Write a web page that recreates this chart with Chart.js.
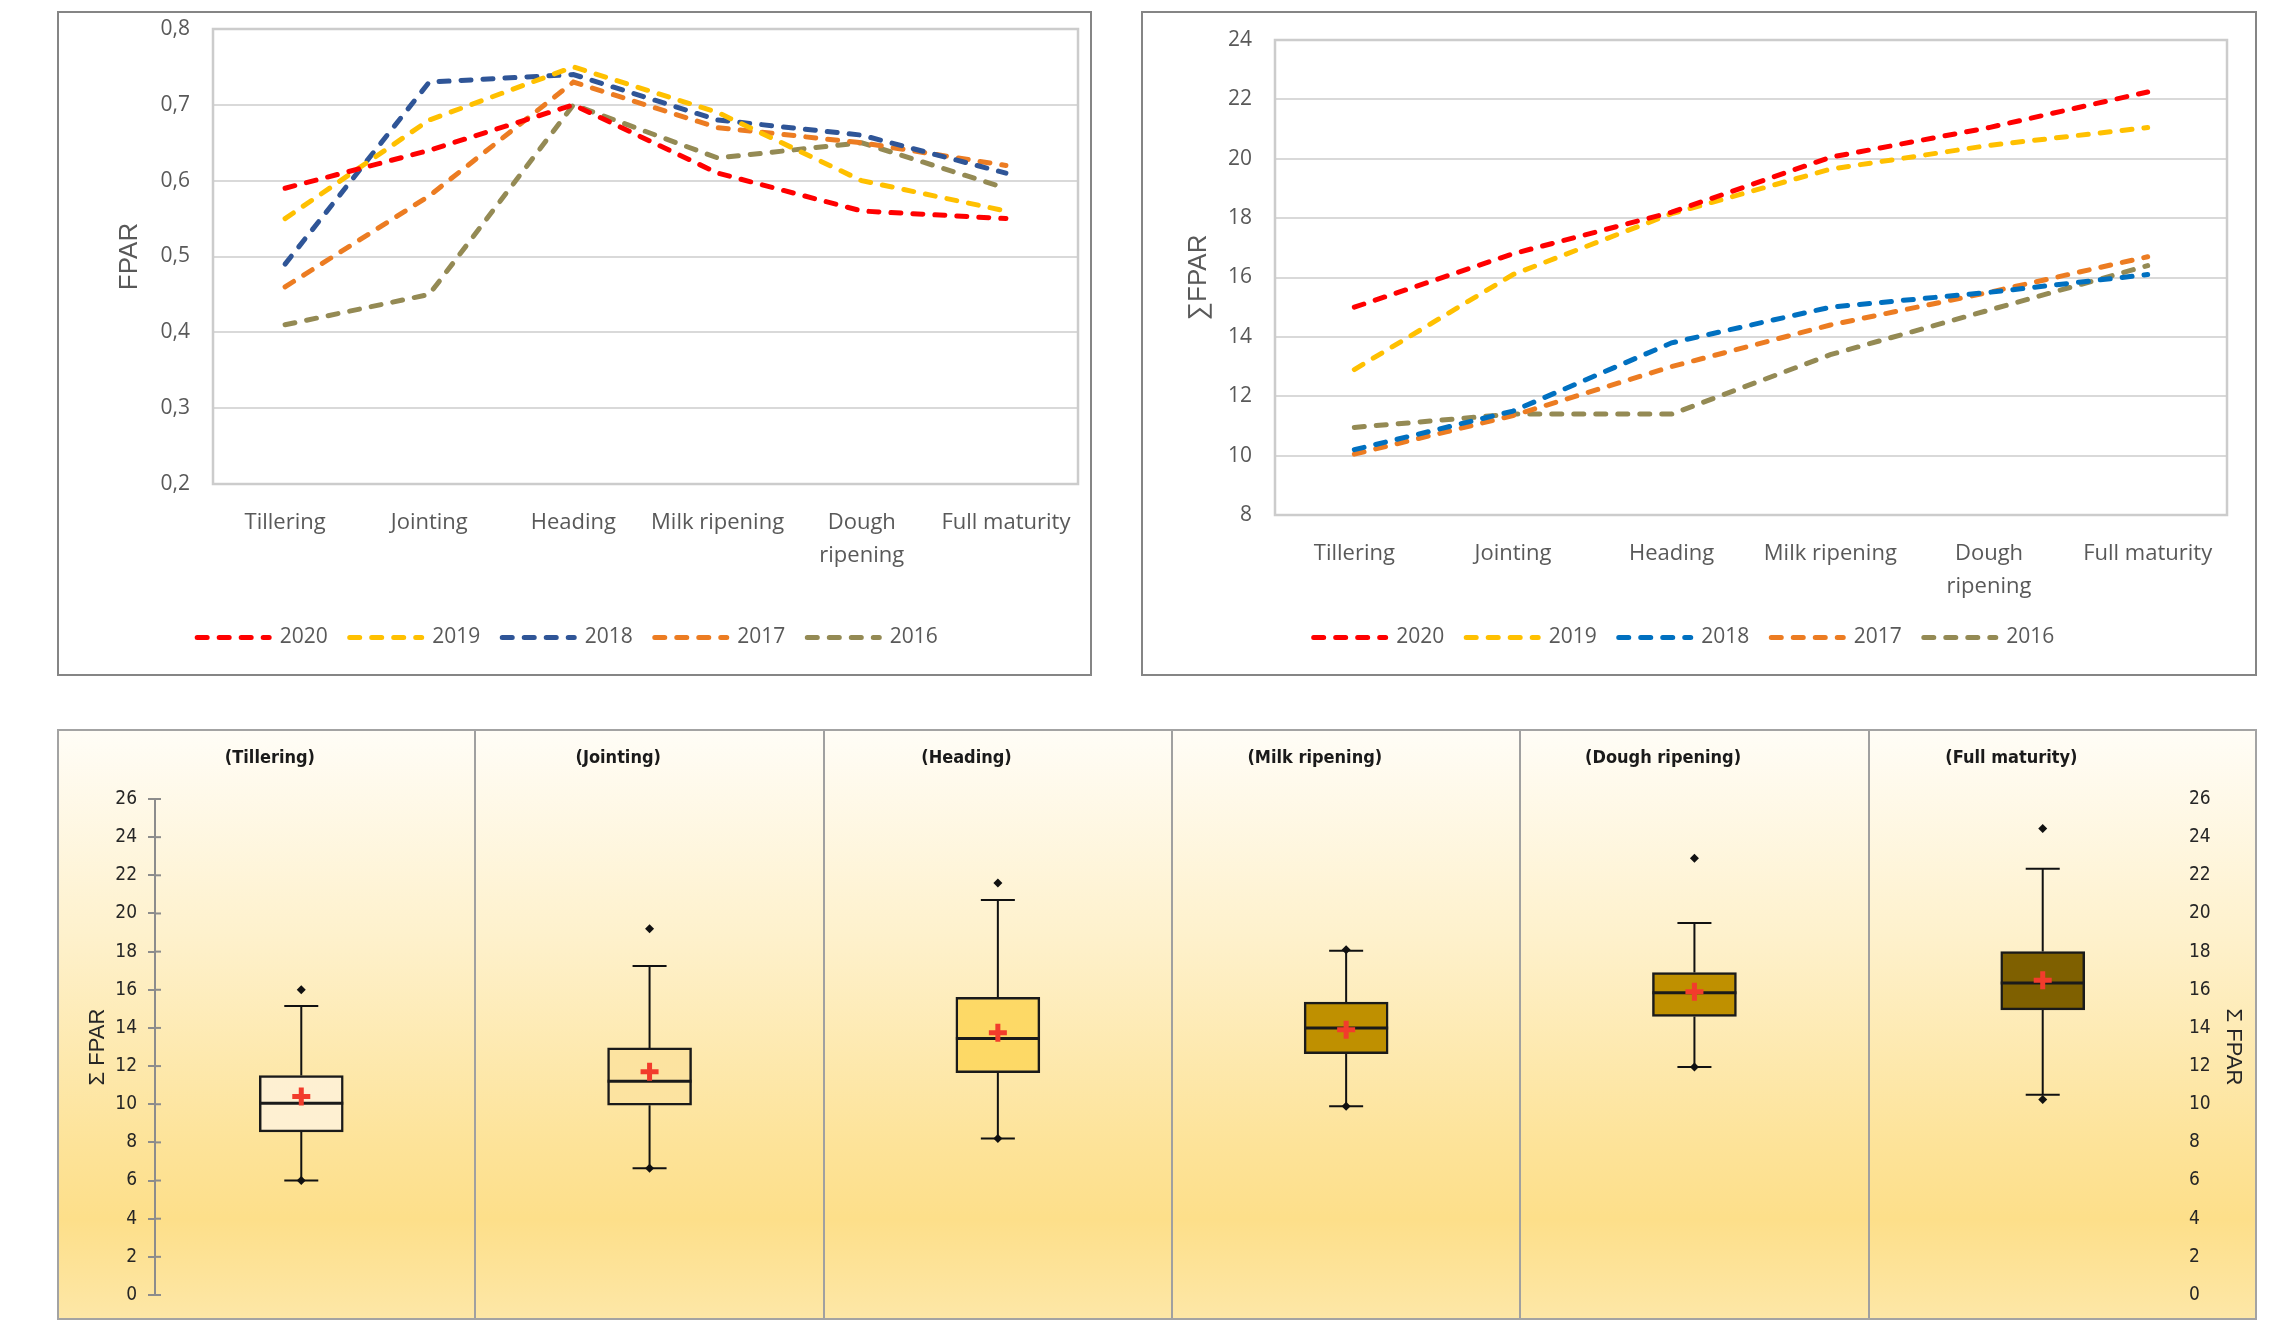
<!DOCTYPE html>
<html>
<head>
<meta charset="utf-8">
<title>FPAR by growth stage</title>
<script src="https://cdn.jsdelivr.net/npm/chart.js@4.4.1/dist/chart.umd.min.js"></script>
<style>
  html, body { margin: 0; padding: 0; background: #fff; }
  body { width: 2287px; height: 1320px; position: relative; overflow: hidden; }
  .panel { position: absolute; }
  .panel canvas { display: block; }
  .panel::after { content: ""; position: absolute; left: 0; top: 0; right: 0; bottom: 0; border: 2px solid #858585; pointer-events: none; }
  .panel.box::after { border-color: #a3a3a3; }
</style>
</head>
<body>
<div class="panel" style="left:57px;top:11px;width:1035px;height:665px">
  <canvas id="fparChart" width="1035" height="665"></canvas>
</div>
<div class="panel" style="left:1141px;top:11px;width:1116px;height:665px">
  <canvas id="sumChart" width="1116" height="665"></canvas>
</div>
<div class="panel box" style="left:57px;top:729px;width:2200px;height:591px">
  <canvas id="boxChart" width="2200" height="591"></canvas>
</div>

<script>
// growth stages (categories)
const stages = ["Tillering", "Jointing", "Heading", "Milk ripening", "Dough ripening", "Full maturity"];
const stageTicks = ["Tillering", "Jointing", "Heading", "Milk ripening", ["Dough", "ripening"], "Full maturity"];
const years = ["2020", "2019", "2018", "2017", "2016"];

// FPAR per stage (top left)
const fpar2020 = [0.59, 0.64, 0.70, 0.61, 0.56, 0.55];
const fpar2019 = [0.55, 0.68, 0.75, 0.69, 0.60, 0.56];
const fpar2018 = [0.49, 0.73, 0.74, 0.68, 0.66, 0.61];
const fpar2017 = [0.46, 0.58, 0.73, 0.67, 0.65, 0.62];
const fpar2016 = [0.41, 0.45, 0.70, 0.63, 0.65, 0.59];

// cumulated FPAR per stage (top right)
const sum2020 = [15.0, 16.8, 18.2, 20.05, 21.05, 22.25];
const sum2019 = [12.9, 16.1, 18.15, 19.65, 20.45, 21.05];
const sum2018 = [10.2, 11.5, 13.8, 15.0, 15.5, 16.1];
const sum2017 = [10.05, 11.35, 13.0, 14.4, 15.5, 16.7];
const sum2016 = [10.95, 11.4, 11.4, 13.4, 14.9, 16.4];

// box plots of cumulated FPAR (bottom)
const boxQ1 = [8.55, 9.95, 11.65, 12.65, 14.6, 14.95];
const boxQ3 = [11.5, 12.95, 15.6, 15.35, 16.9, 18.0];
const boxMedian = [10.05, 11.2, 13.45, 14.0, 15.85, 16.35];
const boxMean = [10.4, 11.7, 13.75, 13.9, 15.9, 16.5];
const whiskerLow = [6.0, 6.65, 8.2, 9.9, 11.95, 10.5];
const whiskerHigh = [15.15, 17.25, 20.7, 18.05, 19.5, 22.35];
const pointHigh = [16.0, 19.2, 21.6, 18.1, 22.9, 24.45];
const pointLow = [6.0, 6.65, 8.2, 9.9, 11.95, 10.25];

const leftColors = ["#ff0000", "#ffc000", "#2f5597", "#ec7c22", "#948a54"];
const rightColors = ["#ff0000", "#ffc000", "#0070c0", "#ec7c22", "#948a54"];
const boxColors = ["#fef0d2", "#fce3a0", "#fdd966", "#bf9000", "#bf9000", "#7f6000"];

const excelFont = "'Open Sans', 'Liberation Sans', sans-serif";
const narrowFont = "'Liberation Sans Narrow', 'Arial Narrow', 'DejaVu Sans Condensed', sans-serif";
const lineDash = [10, 12];

// grey frame around the plot area of the line charts
const plotFrame = {
  id: "plotFrame",
  beforeDatasetsDraw(chart) {
    const { ctx, chartArea: a } = chart;
    ctx.save();
    ctx.strokeStyle = "#cccccc";
    ctx.lineWidth = 2.5;
    ctx.strokeRect(a.left, a.top, a.right - a.left, a.bottom - a.top);
    ctx.restore();
  },
};

function lineChart(id, series, colors, yOpts) {
  return new Chart(document.getElementById(id), {
    type: "line",
    data: {
      labels: stageTicks,
      datasets: series.map((d, i) => ({
        label: years[i],
        data: d,
        borderColor: colors[i],
        backgroundColor: colors[i],
        borderWidth: 5,
        borderDash: lineDash,
        borderCapStyle: "round",
        pointRadius: 0,
        tension: 0,
      })),
    },
    options: {
      responsive: false,
      animation: false,
      devicePixelRatio: 1,
      layout: { padding: yOpts.padding },
      plugins: {
        tooltip: { enabled: false },
        legend: {
          position: "bottom",
          labels: {
            usePointStyle: true,
            pointStyle: "line",
            pointStyleWidth: 72,
            padding: 22,
            color: "#595959",
            font: { family: excelFont, size: 21 },
            generateLabels: (chart) =>
              Chart.defaults.plugins.legend.labels.generateLabels(chart).map((l) => ({
                ...l,
                lineDash: lineDash,
                lineCap: "round",
                lineWidth: 5,
              })),
          },
        },
      },
      scales: {
        x: {
          offset: true,
          grid: { display: false },
          border: { display: false },
          ticks: {
            color: "#595959",
            padding: yOpts.xPad,
            maxRotation: 0,
            autoSkip: false,
            font: { family: excelFont, size: 22, lineHeight: 1.5 },
          },
          afterFit: (s) => { s.height = yOpts.xHeight; },
        },
        y: {
          min: yOpts.min,
          max: yOpts.max,
          grid: { color: "#d9d9d9", lineWidth: 2, drawTicks: false },
          border: { display: false },
          ticks: {
            stepSize: yOpts.step,
            color: "#595959",
            padding: 23,
            font: { family: excelFont, size: 21 },
            callback: yOpts.fmt,
          },
          title: {
            display: true,
            text: yOpts.title,
            color: "#595959",
            padding: { top: yOpts.titlePad },
            font: { family: "'Liberation Sans', Arial, sans-serif", size: 26 },
          },
          afterFit: (s) => {
            s.width = yOpts.yWidth;
            s.paddingTop = 12;
            s.paddingBottom = 12;
          },
        },
      },
    },
    plugins: [plotFrame],
  });
}

lineChart("fparChart", [fpar2020, fpar2019, fpar2018, fpar2017, fpar2016], leftColors, {
  min: 0.2, max: 0.8, step: 0.1,
  fmt: (v) => v.toFixed(1).replace(".", ","),
  title: "FPAR", titlePad: 57, yWidth: 156,
  xPad: 14, xHeight: 121,
  padding: { left: 0, top: 18, right: 14, bottom: 18 },
});

lineChart("sumChart", [sum2020, sum2019, sum2018, sum2017, sum2016], rightColors, {
  min: 8, max: 24, step: 2,
  fmt: (v) => v,
  title: "\u2211FPAR", titlePad: 42, yWidth: 134,
  xPad: 14, xHeight: 90,
  padding: { left: 0, top: 29, right: 30, bottom: 18 },
});

// background, panel dividers, titles, whiskers and medians of the box plots
const boxPlotDecor = {
  id: "boxPlotDecor",
  beforeDraw(chart) {
    const { ctx, width, height } = chart;
    const g = ctx.createLinearGradient(0, 0, 0, height);
    g.addColorStop(0, "#fffdf7");
    g.addColorStop(0.35, "#fef1cc");
    g.addColorStop(0.7, "#fde399");
    g.addColorStop(0.83, "#fddf8a");
    g.addColorStop(1, "#fde7a7");
    ctx.save();
    ctx.fillStyle = g;
    ctx.fillRect(0, 0, width, height);
    ctx.restore();
  },
  beforeDatasetsDraw(chart) {
    const { ctx, height, scales: { x, y } } = chart;
    ctx.save();
    ctx.strokeStyle = "#a0a0a0";
    ctx.lineWidth = 2;
    for (let i = 0; i < stages.length - 1; i++) {
      const px = Math.round(x.getPixelForValue(i + 0.5));
      ctx.beginPath();
      ctx.moveTo(px, 0);
      ctx.lineTo(px, height);
      ctx.stroke();
    }
    ctx.fillStyle = "#1a1a1a";
    ctx.font = "bold 18px " + narrowFont;
    ctx.textAlign = "center";
    ctx.textBaseline = "middle";
    stages.forEach((s, i) => {
      ctx.fillText("(" + s + ")", x.getPixelForValue(i - 0.09), 29);
    });
    // whiskers with caps
    ctx.strokeStyle = "#111";
    ctx.lineWidth = 2;
    stages.forEach((s, i) => {
      const px = x.getPixelForValue(i);
      const yl = y.getPixelForValue(whiskerLow[i]);
      const yh = y.getPixelForValue(whiskerHigh[i]);
      ctx.beginPath();
      ctx.moveTo(px, yl);
      ctx.lineTo(px, y.getPixelForValue(boxQ1[i]));
      ctx.moveTo(px, y.getPixelForValue(boxQ3[i]));
      ctx.lineTo(px, yh);
      ctx.moveTo(px - 17, yl);
      ctx.lineTo(px + 17, yl);
      ctx.moveTo(px - 17, yh);
      ctx.lineTo(px + 17, yh);
      ctx.stroke();
    });
    // tick marks crossing the left axis
    const axisX = chart.chartArea.left;
    ctx.strokeStyle = "#8c8c8c";
    y.ticks.forEach((t) => {
      const py = y.getPixelForValue(t.value);
      ctx.beginPath();
      ctx.moveTo(axisX, py);
      ctx.lineTo(axisX + 6, py);
      ctx.stroke();
    });
    ctx.restore();
  },
  afterDatasetDraw(chart, args) {
    if (args.index !== 0) return;
    const { ctx, scales: { y } } = chart;
    ctx.save();
    ctx.strokeStyle = "#1a1a1a";
    ctx.lineWidth = 3;
    args.meta.data.forEach((bar, i) => {
      const py = y.getPixelForValue(boxMedian[i]);
      ctx.beginPath();
      ctx.moveTo(bar.x - bar.width / 2, py);
      ctx.lineTo(bar.x + bar.width / 2, py);
      ctx.stroke();
    });
    ctx.restore();
  },
};

const boxTicks = {
  stepSize: 2,
  color: "#262626",
  font: { family: narrowFont, size: 19 },
};

new Chart(document.getElementById("boxChart"), {
  type: "bar",
  data: {
    datasets: [
      {
        label: "Quartiles",
        order: 3,
        data: stages.map((s, i) => ({ x: i, y: [boxQ1[i], boxQ3[i]] })),
        backgroundColor: boxColors,
        borderColor: "#1a1a1a",
        borderWidth: 2.5,
        borderSkipped: false,
        barThickness: 84,
      },
      {
        type: "scatter",
        label: "Mean",
        order: 1,
        data: stages.map((s, i) => ({ x: i, y: boxMean[i] })),
        pointStyle: "cross",
        pointRadius: 9,
        borderWidth: 5,
        borderColor: "#f23c2c",
        backgroundColor: "#f23c2c",
      },
      {
        type: "scatter",
        label: "Max",
        order: 1,
        data: stages.map((s, i) => ({ x: i, y: pointHigh[i] })),
        pointStyle: "rectRot",
        pointRadius: 4.5,
        borderWidth: 0,
        backgroundColor: "#111",
      },
      {
        type: "scatter",
        label: "Min",
        order: 1,
        data: stages.map((s, i) => ({ x: i, y: pointLow[i] })),
        pointStyle: "rectRot",
        pointRadius: 4.5,
        borderWidth: 0,
        backgroundColor: "#111",
      },
    ],
  },
  options: {
    responsive: false,
    animation: false,
    devicePixelRatio: 1,
    layout: { padding: { top: 70, bottom: 25 } },
    plugins: { legend: { display: false }, tooltip: { enabled: false } },
    scales: {
      x: { type: "linear", offset: false, min: -0.42, max: 5.42, display: false },
      y: {
        position: "left",
        min: 0,
        max: 26,
        ticks: { ...boxTicks, padding: 11 },
        grid: { drawOnChartArea: false, tickLength: 7, color: "#8c8c8c", lineWidth: 2 },
        border: { color: "#8c8c8c", width: 2 },
        title: {
          display: true,
          text: "\u03a3 FPAR",
          color: "#262626",
          padding: { top: 28 },
          font: { family: "'Liberation Sans', Arial, sans-serif", size: 22 },
        },
        afterFit: (s) => { s.width = 98; },
      },
      y2: {
        position: "right",
        min: 0,
        max: 26,
        ticks: { ...boxTicks, padding: 0 },
        grid: { display: false, drawTicks: false },
        border: { display: false },
        title: {
          display: true,
          text: "\u03a3 FPAR",
          color: "#262626",
          padding: { top: 11 },
          font: { family: "'Liberation Sans', Arial, sans-serif", size: 22 },
        },
        afterFit: (s) => { s.width = 68; },
      },
    },
  },
  plugins: [boxPlotDecor],
});
</script>
</body>
</html>
